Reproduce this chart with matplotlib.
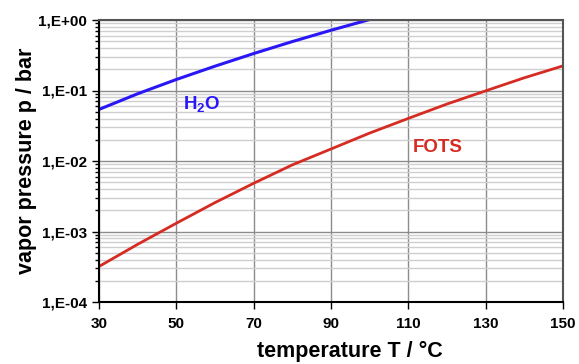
import numpy as np
import matplotlib
matplotlib.use("Agg")
from matplotlib import pyplot as plt
from matplotlib.ticker import LogLocator, NullFormatter

# values
temp_h2o = [30, 40, 50, 60, 70, 80, 90, 100]
p_h2o = [0.0539, 0.0899, 0.1433, 0.2213, 0.3344, 0.4944, 0.715, 1.016]

temp_fots = [30, 40, 50, 60, 70, 80, 90, 100, 110, 120, 130, 140, 150]
p_fots = [3.19e-4, 6.58e-4, 1.31e-3, 2.57e-3, 4.83e-3, 8.81e-3, 0.0148,
          0.0249, 0.0402, 0.0643, 0.0989, 0.1515, 0.2234]

x_ticks = [30, 50, 70, 90, 110, 130, 150]
y_ticks = [1e-4, 1e-3, 1e-2, 1e-1, 1e0]
y_tick_labels = ["1,E-04", "1,E-03", "1,E-02", "1,E-01", "1,E+00"]

plt.rcParams['font.family'] = ['Liberation Sans', 'DejaVu Sans']
plt.rcParams['font.weight'] = 'bold'
plt.rcParams['mathtext.fontset'] = 'custom'
plt.rcParams['mathtext.bf'] = 'Liberation Sans:bold'
plt.rcParams['mathtext.rm'] = 'Liberation Sans:bold'

fig = plt.figure(figsize=(5.79, 3.64), dpi=100)
ax = fig.add_axes([99 / 579, 1 - 302 / 364, 464 / 579, 282 / 364])

ax.plot(temp_h2o, p_h2o, color='#2a17f5', lw=2.2, solid_joinstyle='round')
ax.plot(temp_fots, p_fots, color='#d62b22', lw=2.0, solid_joinstyle='round')

ax.set_yscale('log')
ax.set_xlim(30, 150)
ax.set_ylim(1e-4, 1)
ax.set_xticks(x_ticks)
ax.set_yticks(y_ticks)
ax.set_yticklabels(y_tick_labels)
ax.yaxis.set_minor_locator(LogLocator(base=10, subs=np.arange(2, 10), numticks=20))
ax.yaxis.set_minor_formatter(NullFormatter())

ax.grid(which='major', axis='x', color='#8c8c8c', lw=1.0)
ax.grid(which='major', axis='y', color='#8c8c8c', lw=1.0)
ax.grid(which='minor', axis='y', color='#cfcfcf', lw=1.0)
ax.set_axisbelow(True)

ax.tick_params(axis='both', which='major', labelsize=11, direction='out', length=5, width=1)
ax.tick_params(axis='y', which='minor', direction='out', length=3, width=1)
ax.tick_params(axis='x', which='major', pad=6)
for lbl in ax.get_xticklabels() + ax.get_yticklabels():
    lbl.set_fontweight('bold')

for side in ['left', 'bottom']:
    ax.spines[side].set_color('black')
    ax.spines[side].set_linewidth(1.5)
for side in ['top', 'right']:
    ax.spines[side].set_color('#555555')
    ax.spines[side].set_linewidth(1.5)

ax.text(51.7, 0.062, 'H$_\\mathbf{2}$O', color='#2a17f5', fontsize=13.5, fontweight='bold',
        ha='left', va='center')
ax.text(111.2, 0.0153, 'FOTS', color='#d62b22', fontsize=13.5, fontweight='bold',
        ha='left', va='center')

ax.set_xlabel('temperature T / °C', fontsize=15.5, fontweight='bold')
ax.set_ylabel('vapor pressure p / bar', fontsize=15.5, fontweight='bold')
ax.xaxis.set_label_coords(0.54, -0.138)
ax.yaxis.set_label_coords(-0.133, 0.5)

fig.savefig('out.png', dpi=100)
